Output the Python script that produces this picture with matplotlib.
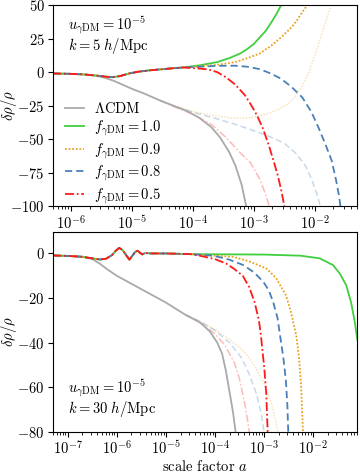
import numpy as np
import matplotlib
matplotlib.use("Agg")
import matplotlib.pyplot as plt
from matplotlib.ticker import LogLocator, NullFormatter

plt.rcParams.update({
    "font.family": "serif",
    "font.serif": ["cmr10", "DejaVu Serif"],
    "mathtext.fontset": "cm",
    "axes.formatter.use_mathtext": True,
    "font.size": 10.5,
    "axes.linewidth": 0.8,
})

# ---------------- top panel (k = 5 h/Mpc) ----------------
top_common_loga = [-6.31, -6.0, -5.8, -5.6, -5.45, -5.33, -5.2, -5.05, -4.9, -4.72, -4.55, -4.35, -4.16]
top_common_val = [-1.0, -1.3, -1.7, -2.5, -3.3, -3.8, -3.0, -1.0, 0.3, 1.3, 2.0, 2.8, 3.5]

top_lcdm_loga = [-6.31, -6.0, -5.8, -5.6, -5.45, -5.3, -5.15, -5.0, -4.8, -4.55, -4.3, -4.1, -3.9, -3.7, -3.55, -3.4, -3.3, -3.2, -3.12]
top_lcdm_val = [-1.0, -1.3, -1.7, -2.6, -4.2, -6.5, -9.5, -12.5, -16, -21, -25.5, -29, -34, -41, -49, -60, -70, -84, -101]

top_g10_loga = [-3.9, -3.6, -3.4, -3.22, -3.1, -3.0, -2.9, -2.8, -2.7, -2.62, -2.55, -2.5]
top_g10_val = [5, 7.5, 10.5, 14, 17.5, 21, 26, 31, 38, 44, 50, 55]

top_o09_loga = [-3.9, -3.6, -3.3, -3.1, -2.9, -2.72, -2.55, -2.4, -2.3, -2.2, -2.12, -2.05]
top_o09_val = [4.3, 5.5, 7.5, 10.5, 14, 19.5, 26, 32.5, 38, 45, 50, 55]

top_b08_loga = [-3.9, -3.6, -3.3, -3.1, -2.9, -2.72, -2.55, -2.38, -2.2, -2.05, -1.94, -1.83, -1.72, -1.65, -1.6, -1.57]
top_b08_val = [4.0, 4.7, 4.8, 4.0, 2.2, -1, -5, -11, -19, -30, -41, -53, -66, -80, -92, -102]

top_r05_loga = [-3.9, -3.75, -3.6, -3.45, -3.3, -3.15, -3.05, -2.95, -2.85, -2.75, -2.67, -2.6, -2.54, -2.49]
top_r05_val = [2.7, 2.0, 0, -4, -9.5, -17, -24, -32, -42, -55, -67, -78, -90, -102]

top_fo09_loga = [-4.55, -4.3, -4.0, -3.6, -3.3, -3.05, -2.8, -2.6, -2.45, -2.33, -2.2, -2.1, -2.0, -1.9, -1.8, -1.7]
top_fo09_val = [-21, -25, -29.5, -33, -34.5, -34, -31.5, -28, -24, -19, -10, -1, 12, 26, 40, 54]

top_fb08_loga = [-4.55, -4.3, -4.0, -3.6, -3.3, -3.05, -2.8, -2.5, -2.3, -2.15, -2.05, -1.97, -1.9]
top_fb08_val = [-21, -25.5, -30, -35, -39, -43, -47, -53, -61, -70, -80, -90, -101]

top_fr05_loga = [-4.55, -4.3, -4.0, -3.7, -3.45, -3.25, -3.05, -2.9, -2.8, -2.74]
top_fr05_val = [-21, -26, -31.5, -39, -49, -59, -68, -80, -92, -101]

# ---------------- bottom panel (k = 30 h/Mpc) ----------------
bot_common_loga = [-7.31, -7.0, -6.7, -6.5, -6.35, -6.22, -6.1, -6.02, -5.95, -5.88, -5.8, -5.74,
                   -5.68, -5.62, -5.57, -5.52, -5.48, -5.42, -5.3, -5.0, -4.5]
bot_common_val = [-0.9, -1.1, -1.5, -2.2, -2.7, -2.4, -0.8, 1.2, 2.5, 1.5, -1.0, -2.8,
                  -1.0, 0.8, 1.2, 0.2, -0.4, 0.2, 0.0, 0.0, -0.3]

bot_lcdm_loga = [-7.31, -7.0, -6.7, -6.5, -6.35, -6.2, -6.0, -5.5, -5.0, -4.6, -4.3, -4.1, -3.95, -3.85, -3.77, -3.7, -3.63, -3.57]
bot_lcdm_val = [-0.9, -1.1, -1.5, -2.5, -4.5, -7.0, -10, -16, -22, -27.5, -31, -35, -40, -45, -53, -62, -71, -81]

bot_g10_loga = [-3.0, -2.25, -1.86, -1.59, -1.45, -1.32, -1.22, -1.15, -1.09]
bot_g10_val = [-0.5, -1, -2.2, -5.2, -9, -14.2, -22, -30, -39]

bot_o09_loga = [-3.63, -3.3, -2.95, -2.75, -2.55, -2.45, -2.34, -2.28, -2.24, -2.22, -2.2]
bot_o09_val = [-1.5, -3.5, -6.7, -11, -18.7, -26, -36.6, -47, -59, -70, -81]

bot_b08_loga = [-4.03, -3.7, -3.42, -3.2, -3.01, -2.9, -2.81, -2.72, -2.67, -2.6, -2.55, -2.52, -2.5]
bot_b08_val = [-1.0, -2.8, -5.2, -8.5, -12.7, -16.5, -21.7, -29, -36.6, -47, -57, -68, -81]

bot_r05_loga = [-4.31, -4.0, -3.77, -3.6, -3.43, -3.3, -3.19, -3.1, -3.06, -2.99, -2.95, -2.92]
bot_r05_val = [-1.0, -2.5, -4.5, -7, -10, -15, -21.7, -30, -36.6, -51.6, -63, -81]

bot_fo09_loga = [-4.6, -4.3, -4.0, -3.7, -3.4, -3.2, -3.0, -2.85, -2.75, -2.7]
bot_fo09_val = [-27.5, -30.5, -34, -38.5, -44, -50, -58, -67, -76, -81]

bot_fb08_loga = [-4.6, -4.3, -4.0, -3.7, -3.45, -3.3, -3.15, -3.05, -2.99]
bot_fb08_val = [-27.5, -30.5, -34.5, -40, -47, -54, -63, -72, -81]

bot_fr05_loga = [-4.6, -4.3, -4.0, -3.8, -3.6, -3.5, -3.4, -3.33, -3.29]
bot_fr05_val = [-27.5, -31, -36, -41, -49, -56, -66, -75, -81]

top_xticks = [1e-6, 1e-5, 1e-4, 1e-3, 1e-2]
bot_xticks = [1e-7, 1e-6, 1e-5, 1e-4, 1e-3, 1e-2]

labels = [r"$\Lambda$CDM", r"$f_{\gamma{\rm DM}} = 1.0$", r"$f_{\gamma{\rm DM}} = 0.9$",
          r"$f_{\gamma{\rm DM}} = 0.8$", r"$f_{\gamma{\rm DM}} = 0.5$"]

c_grey = "#aaaaaa"
c_green = "#3fcf3f"
c_orange = "#e9a21f"
c_blue = "#4a80b8"
c_red = "#ff1a1a"


def join(common_l, common_v, l, v):
    return 10.0 ** np.array(common_l + l), np.array(common_v + v)


fig = plt.figure(figsize=(3.6, 4.73), dpi=100)
ax1 = fig.add_axes([0.147, 0.5645, 0.845, 0.4245])
ax2 = fig.add_axes([0.147, 0.0873, 0.845, 0.4216])


def draw(ax, cl, cv, lcdm, g, o, b, r, fo, fb, fr):
    lw = 1.3
    for (l, v), col, ls in [(fo, c_orange, (0, (1, 1))), (fb, c_blue, (0, (4, 2.2))),
                            (fr, c_red, (0, (5, 1.5, 1, 1.5)))]:
        ax.plot(10.0 ** np.array(l), v, color=col, ls=ls, lw=1.1, alpha=0.3)
    ax.plot(10.0 ** np.array(lcdm[0]), lcdm[1], color=c_grey, lw=lw, label=labels[0])
    x, y = join(cl, cv, *g)
    ax.plot(x, y, color=c_green, lw=lw, label=labels[1])
    x, y = join(cl, cv, *o)
    ax.plot(x, y, color=c_orange, lw=lw, ls=(0, (1, 1)), label=labels[2])
    x, y = join(cl, cv, *b)
    ax.plot(x, y, color=c_blue, lw=lw, ls=(0, (4, 2.2)), label=labels[3])
    x, y = join(cl, cv, *r)
    ax.plot(x, y, color=c_red, lw=lw, ls=(0, (5, 1.5, 1, 1.5)), label=labels[4])
    ax.set_xscale("log")
    ax.tick_params(which="both", direction="out", top=False, right=False)
    ax.tick_params(which="major", pad=2.5)
    ax.set_ylabel(r"$\delta\rho/\rho$")


draw(ax1, top_common_loga, top_common_val, (top_lcdm_loga, top_lcdm_val),
     (top_g10_loga, top_g10_val), (top_o09_loga, top_o09_val), (top_b08_loga, top_b08_val),
     (top_r05_loga, top_r05_val), (top_fo09_loga, top_fo09_val), (top_fb08_loga, top_fb08_val),
     (top_fr05_loga, top_fr05_val))
draw(ax2, bot_common_loga, bot_common_val, (bot_lcdm_loga, bot_lcdm_val),
     (bot_g10_loga, bot_g10_val), (bot_o09_loga, bot_o09_val), (bot_b08_loga, bot_b08_val),
     (bot_r05_loga, bot_r05_val), (bot_fo09_loga, bot_fo09_val), (bot_fb08_loga, bot_fb08_val),
     (bot_fr05_loga, bot_fr05_val))

for ax, xt in [(ax1, top_xticks), (ax2, bot_xticks)]:
    ax.set_xticks(xt)
    ax.xaxis.set_minor_locator(LogLocator(base=10, subs=np.arange(2, 10), numticks=20))
    ax.xaxis.set_minor_formatter(NullFormatter())

ax1.set_xlim(5e-7, 5e-2)
ax1.set_ylim(-100, 50)
ax1.set_yticks([-100, -75, -50, -25, 0, 25, 50])
ax2.set_xlim(5e-8, 8e-2)
ax2.set_ylim(-80, 9.5)
ax2.set_yticks([-80, -60, -40, -20, 0])
ax2.set_xlabel(r"scale factor $a$", labelpad=1)
ax1.yaxis.set_label_coords(-0.11, 0.5)
ax2.yaxis.set_label_coords(-0.11, 0.5)

ax1.text(0.05, 0.955, "$u_{\\gamma{\\rm DM}} = 10^{-5}$\n$k = 5\\ h/{\\rm Mpc}$",
         transform=ax1.transAxes, va="top", ha="left", linespacing=1.0)
ax2.text(0.05, 0.065, "$u_{\\gamma{\\rm DM}} = 10^{-5}$\n$k = 30\\ h/{\\rm Mpc}$",
         transform=ax2.transAxes, va="bottom", ha="left", linespacing=1.0)

ax1.legend(loc="upper left", bbox_to_anchor=(0.005, 0.575), frameon=False,
           handlelength=1.3, handletextpad=0.7, labelspacing=0.2, borderaxespad=0.3)

fig.savefig("out.png", dpi=100)
